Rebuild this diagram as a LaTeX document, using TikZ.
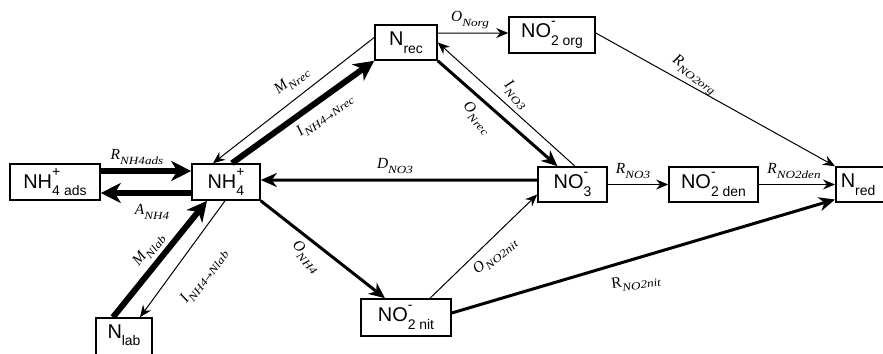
\documentclass[tikz,border=0pt]{standalone}
\usepackage{fontspec}
\usepackage{graphicx}
\setmainfont{Liberation Sans}
\newfontfamily\serifL{Liberation Serif}
\newfontfamily\arrfont{DejaVu Sans}
\usetikzlibrary{arrows.meta}
\newcommand\subt[1]{\raisebox{-0.38em}{\fontsize{14}{14}\selectfont #1}}
\newcommand\supt[1]{\raisebox{0.6em}{\fontsize{14}{14}\selectfont #1}}
\newcommand\stk[2]{\sbox0{\subt{#1}}\sbox2{\supt{#2}}\ifdim\wd0>\wd2 \rlap{\usebox2}\usebox0\else\rlap{\usebox0}\usebox2\fi}
\newcommand\lsub[1]{\raisebox{-0.3em}{\scalebox{1.2}[1]{\serifL\itshape\fontsize{11}{11}\selectfont #1}}}
\newcommand\lb[2]{{\serifL\itshape\fontsize{15.5}{16}\selectfont #1\lsub{#2}}}
\newcommand\lbu[2]{{\serifL\fontsize{15.5}{16}\selectfont #1\lsub{#2}}}
\newcommand\arr{{\arrfont\fontsize{9}{9}\selectfont →}}
\begin{document}
\begin{tikzpicture}[x=1bp,y=-1bp,
  box/.style={draw, line width=1.6bp, inner sep=0pt, minimum height=36bp, font=\fontsize{20}{22}\selectfont},
  thinar/.style={line width=1bp, -{Stealth[length=12bp,width=10bp,inset=4bp]}},
  medar/.style={line width=3bp, -{Stealth[length=16bp,width=14bp,inset=5bp]}},
  thickar/.style={line width=6bp, -{Stealth[length=20bp,width=20bp,inset=6bp]}},
  lab/.style={inner sep=0pt}]
\useasboundingbox (0,0) rectangle (883,353);
\clip (0,0) rectangle (883,353);
% boxes
\node[box, minimum width=90bp] (ads) at (55,182) {NH\stk{4}{+}\subt{\ ads}};
\node[box, minimum width=68bp] (nh4) at (226,182) {NH\stk{4}{+}};
\node[box, minimum width=56bp, minimum height=40bp, text height=14bp, text depth=14bp] (nlab) at (124,338) {N\subt{lab}};
\node[box, minimum width=62bp, minimum height=35bp] (nrec) at (406,42.5) {N\subt{rec}};
\node[box, minimum width=86bp] (org) at (552,35) {NO\stk{2\ org}{-}};
\node[box, minimum width=69bp, minimum height=35bp] (no3) at (572.5,184.5) {NO\stk{3}{-}};
\node[box, minimum width=89bp, minimum height=35bp] (den) at (713.5,184.5) {NO\stk{2\ den}{-}};
\node[box, anchor=west, minimum height=35bp, text width=50bp, inner xsep=5bp, align=left] (nred) at (835,184.5) {N\subt{red}};
\node[box, minimum width=90bp, minimum height=37bp] (nit) at (406,317.5) {NO\stk{2\ nit}{-}};
% connectors
\draw[thickar] ([yshift=11bp]ads.east) -- ([yshift=11bp]nh4.west);
\draw[thickar] ([yshift=-11bp]nh4.west) -- ([yshift=-11bp]ads.east);
\draw[thickar] ([xshift=-11bp]nlab.north) -- ([xshift=-19bp]nh4.south);
\draw[thinar] ([xshift=-1bp]nh4.south) -- ([xshift=16bp]nlab.north);
\draw[thinar] ([yshift=5bp]nrec.west) -- ([xshift=-13bp]nh4.north);
\draw[thickar] ([xshift=6bp]nh4.north) -- (nrec.south west);
\draw[medar] ([yshift=4.5bp]no3.west) -- ([yshift=2bp]nh4.east);
\draw[medar] (nh4.south east) -- ([xshift=-21bp]nit.north);
\draw[thinar] ([xshift=24bp]nit.north) -- ([yshift=-10bp]no3.west);
\draw[medar] (nrec.south east) -- ([xshift=-15bp]no3.north);
\draw[thinar] ([xshift=2.5bp]no3.north) -- (nrec.east);
\draw[thinar] ([yshift=9.5bp]nrec.east) -- ([yshift=2bp]org.west);
\draw[thinar] ([yshift=2bp]org.east) -- (nred.north west);
\draw[thinar] (no3.east) -- (den.west);
\draw[thinar] (den.east) -- (nred.west);
\draw[medar] ([yshift=4.5bp]nit.east) -- ([yshift=-15bp]nred.west);
% labels
\node[lab] (l1) at (137,157) {\lb{R}{NH4ads}};
\node[lab] (l2) at (152,212) {\lb{A}{NH4}};
\node[lab, rotate=51] (l3) at (149,250) {\lb{M}{Nlab}};
\node[lab, rotate=53] (l4) at (204,276) {\lb{I}{NH4\arr Nlab}};
\node[lab, rotate=38] (l5) at (292,81) {\lb{M}{Nrec}};
\node[lab, rotate=36] (l6) at (325,115) {\lb{I}{NH4\arr Nrec}};
\node[lab] (l7) at (395,166) {\lb{D}{NO3}};
\node[lab, rotate=-48] (l8) at (306,257) {\lb{O}{NH4}};
\node[lab, rotate=40] (l9) at (495,256) {\lb{O}{NO2nit}};
\node[lab, rotate=-47] (l10) at (477,118) {\lb{O}{Nrec}};
\node[lab, rotate=-47] (l11) at (516,95) {\lb{I}{NO3}};
\node[lab] (l12) at (470,20) {\lb{O}{Norg}};
\node[lab, rotate=-35] (l13) at (694,75) {\lb{R}{NO2org}};
\node[lab] (l14) at (633,171) {\lb{R}{NO3}};
\node[lab] (l15) at (794,171) {\lb{R}{NO2den}};
\node[lab, rotate=8] (l16) at (636,282) {\lbu{R}{NO2nit}};
\end{tikzpicture}
\end{document}
